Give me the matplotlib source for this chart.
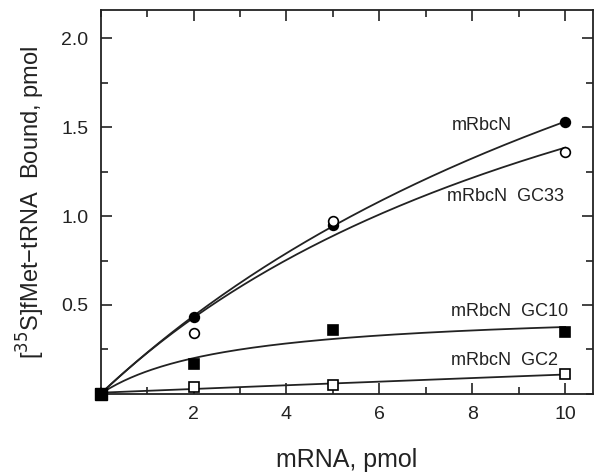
import matplotlib
matplotlib.use("Agg")
import matplotlib.pyplot as plt
import numpy as np
from matplotlib.ticker import MultipleLocator, FixedLocator

plt.rcParams['font.family'] = ['Liberation Sans', 'DejaVu Sans']

mrna = [0, 2, 5, 10]
rbcn = [0, 0.43, 0.95, 1.53]
gc33 = [0, 0.34, 0.97, 1.36]
gc10 = [0, 0.17, 0.36, 0.35]
gc2 = [0, 0.04, 0.05, 0.11]

names = ["mRbcN", "mRbcN  GC33", "mRbcN  GC10", "mRbcN  GC2"]
label_pos = [(7.55, 1.51), (7.45, 1.11), (7.55, 0.465), (7.55, 0.19)]


def fit_hyperbola(x, y):
	# y = V x / (K + x), grid search on K, V by least squares
	x = np.asarray(x, float)
	y = np.asarray(y, float)
	best = None
	for k in np.linspace(0.1, 60, 3000):
		f = x / (k + x)
		v = np.sum(y * f) / np.sum(f * f)
		err = np.sum((y - v * f) ** 2)
		if best is None or err < best[0]:
			best = (err, k, v)
	return lambda t: best[2] * t / (best[1] + t)


def fit_poly(x, y):
	c = np.polyfit(x, y, 2)
	return lambda t: np.polyval(c, t)


def main():
	fig = plt.figure(figsize=(5.99, 4.75), dpi=100)
	ax = fig.add_axes([0.168, 0.171, 0.822, 0.808])

	xs = np.linspace(0, 10, 200)
	series = [
		(rbcn, fit_hyperbola, dict(marker="o", mfc="black", ms=7)),
		(gc33, fit_hyperbola, dict(marker="o", mfc="white", ms=7)),
		(gc10, fit_hyperbola, dict(marker="s", mfc="black", ms=7)),
		(gc2, fit_poly, dict(marker="s", mfc="white", ms=7)),
	]
	for ys, fitter, mk in series:
		f = fitter(mrna, ys)
		ax.plot(xs, f(xs), color="#222222", lw=1.3)
		ax.plot(mrna, ys, ls="none", mec="black", mew=1.2, clip_on=False, zorder=5, **mk)

	# origin marker is drawn as a filled square
	ax.plot([0], [0], ls="none", marker="s", ms=8, color="black", clip_on=False, zorder=6)

	for name, (lx, ly) in zip(names, label_pos):
		ax.text(lx, ly, name, fontsize=13, ha="left", va="center", color="#222222")

	ax.set_xlim(0, 10.6)
	ax.set_ylim(0, 2.16)
	ax.xaxis.set_major_locator(FixedLocator([2, 4, 6, 8, 10]))
	ax.xaxis.set_minor_locator(MultipleLocator(1))
	ax.yaxis.set_major_locator(FixedLocator([0.5, 1.0, 1.5, 2.0]))
	ax.yaxis.set_minor_locator(MultipleLocator(0.25))
	ax.set_yticklabels(["0.5", "1.0", "1.5", "2.0"])
	ax.tick_params(which="both", direction="in", top=True, right=True, labelsize=14, colors="#222222", width=1.2)
	ax.tick_params(which="major", length=8, pad=9)
	ax.tick_params(which="minor", length=5)
	for s in ax.spines.values():
		s.set_linewidth(1.3)
		s.set_color("#222222")

	ax.set_xlabel("mRNA, pmol", fontsize=18, labelpad=18, color="#222222")
	ax.set_ylabel("[$^{35}$S]fMet\u2212tRNA  Bound, pmol", fontsize=17, labelpad=10, color="#222222")

	fig.savefig("out.png", dpi=100)


if __name__ == "__main__":
	main()
